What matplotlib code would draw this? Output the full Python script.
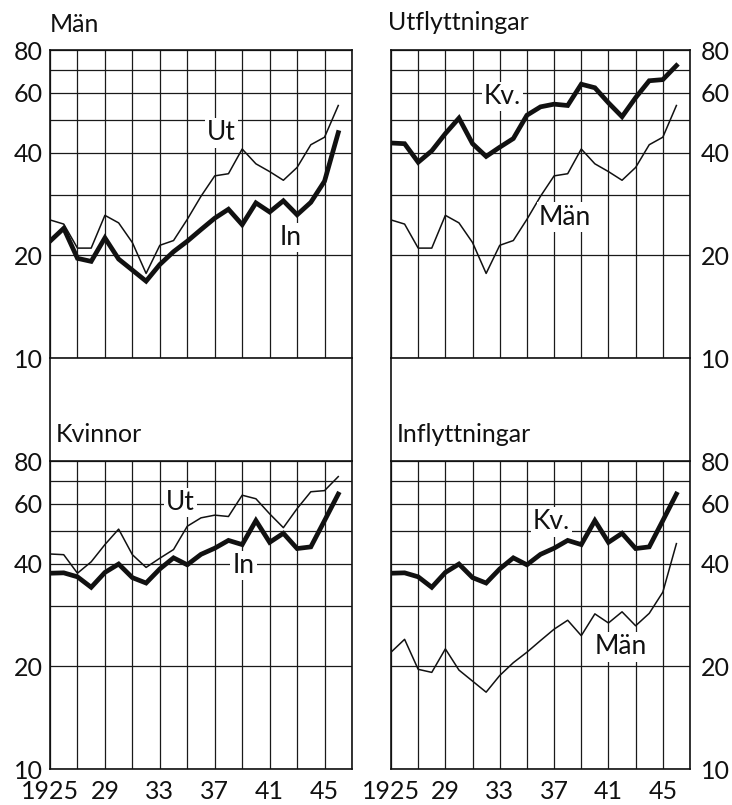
import matplotlib
matplotlib.use("Agg")
import matplotlib.pyplot as plt
from matplotlib.ticker import FixedLocator, NullFormatter

plt.rcParams['font.family'] = ['Lato', 'DejaVu Sans']
plt.rcParams['text.color'] = '#111111'

# Data (log scale, 1925-1946)
years = list(range(1925, 1947))
men_out = [25.4, 24.7, 21.0, 21.0, 26.2, 24.9, 21.8, 17.7, 21.4, 22.1, 25.5,
           29.8, 34.2, 34.7, 41.0, 37.1, 35.2, 33.2, 36.2, 42.2, 44.4, 55.0]
men_in = [22.0, 24.0, 19.6, 19.2, 22.5, 19.5, 18.1, 16.8, 18.8, 20.5, 22.0,
          23.8, 25.7, 27.3, 24.6, 28.5, 26.8, 28.9, 26.3, 28.6, 33.0, 45.8]
women_out = [42.7, 42.5, 37.5, 40.5, 45.5, 50.5, 42.5, 39.0, 41.5, 44.0, 51.5,
             54.5, 55.5, 55.0, 63.5, 62.0, 56.0, 51.0, 58.0, 65.0, 65.5, 72.0]
women_in = [37.5, 37.6, 36.6, 34.1, 37.7, 39.9, 36.4, 35.1, 38.6, 41.6, 39.7,
            42.6, 44.4, 46.8, 45.5, 53.5, 46.2, 49.1, 44.3, 44.8, 53.5, 64.0]

ytick_vals = [10, 20, 40, 60, 80]
ygrid_minor = [30, 50, 70]
xgrid = list(range(1925, 1948, 2))
xlabels = {1925: '1925', 1929: '29', 1933: '33', 1937: '37', 1941: '41', 1945: '45'}

W, H = 732, 805
fig = plt.figure(figsize=(W / 100, H / 100), dpi=100)


def fx(px):
    return px / W


def fy(py):
    return 1 - py / H


def panel(x0, x1, y0, y1, right=False, bottom=False):
    ax = fig.add_axes([fx(x0), fy(y1), fx(x1 - x0), (y1 - y0) / H])
    ax.set_yscale('log')
    ax.set_ylim(10, 80)
    ax.set_xlim(1925, 1947)
    ax.yaxis.set_major_locator(FixedLocator(ytick_vals))
    ax.yaxis.set_minor_locator(FixedLocator(ygrid_minor))
    ax.yaxis.set_minor_formatter(NullFormatter())
    ax.set_yticklabels([str(v) for v in ytick_vals])
    ax.set_xticks(xgrid)
    if bottom:
        ax.set_xticklabels([xlabels.get(x, '') for x in xgrid])
    else:
        ax.set_xticklabels([])
    ax.grid(True, which='both', color='#1a1a1a', linewidth=0.9)
    ax.set_axisbelow(True)
    ax.tick_params(which='both', length=0, labelsize=18, pad=5,
                   labelcolor='#111111')
    ax.tick_params(axis='x', pad=8)
    if right:
        ax.yaxis.tick_right()
        ax.tick_params(axis='y', pad=8)
    for s in ax.spines.values():
        s.set_linewidth(1.2)
        s.set_color('#111111')
    return ax


def gap(x0, x1, y0, y1, title):
    ax = fig.add_axes([fx(x0), fy(y1), fx(x1 - x0), (y1 - y0) / H])
    ax.set_xticks([])
    ax.set_yticks([])
    ax.spines['top'].set_visible(False)
    ax.spines['bottom'].set_visible(False)
    for s in ('left', 'right'):
        ax.spines[s].set_linewidth(1.2)
        ax.spines[s].set_color('#111111')
    ax.set_facecolor('none')
    ax.text(0.02, 0.18, title, transform=ax.transAxes, fontsize=18,
            ha='left', va='baseline')
    return ax


def label(ax, x, y, s):
    ax.text(x, y, s, fontsize=19, ha='center', va='center', zorder=5,
            bbox=dict(facecolor='white', edgecolor='none', pad=1.5))


thin = dict(color='#111111', linewidth=1.1, zorder=3)
thick = dict(color='#111111', linewidth=3.4, zorder=4, solid_joinstyle='miter')

# top-left: Män
ax1 = panel(50, 352, 50, 358)
ax1.plot(years, men_out, **thin)
ax1.plot(years, men_in, **thick)
label(ax1, 1937.5, 45.7, 'Ut')
label(ax1, 1942.5, 22.6, 'In')
fig.text(fx(50), fy(32), 'Män', fontsize=18, ha='left', va='baseline')

# top-right: Utflyttningar
ax2 = panel(391, 690, 50, 358, right=True)
ax2.plot(years, women_out, **thick)
ax2.plot(years, men_out, **thin)
label(ax2, 1933.2, 58.5, 'Kv.')
label(ax2, 1937.8, 25.9, 'Män')
fig.text(fx(388), fy(30), 'Utflyttningar', fontsize=18, ha='left', va='baseline')

# bottom-left: Kvinnor
ax3 = panel(50, 352, 461, 769, bottom=True)
ax3.plot(years, women_out, **thin)
ax3.plot(years, women_in, **thick)
label(ax3, 1934.5, 60.5, 'Ut')
label(ax3, 1939.1, 39.6, 'In')

# bottom-right: Inflyttningar
ax4 = panel(391, 690, 461, 769, right=True, bottom=True)
ax4.plot(years, women_in, **thick)
ax4.plot(years, men_in, **thin)
label(ax4, 1936.8, 53.0, 'Kv.')
label(ax4, 1941.9, 22.8, 'Män')

gap(50, 352, 358, 461, 'Kvinnor')
gap(391, 690, 358, 461, 'Inflyttningar')

fig.savefig('out.png', dpi=100)
